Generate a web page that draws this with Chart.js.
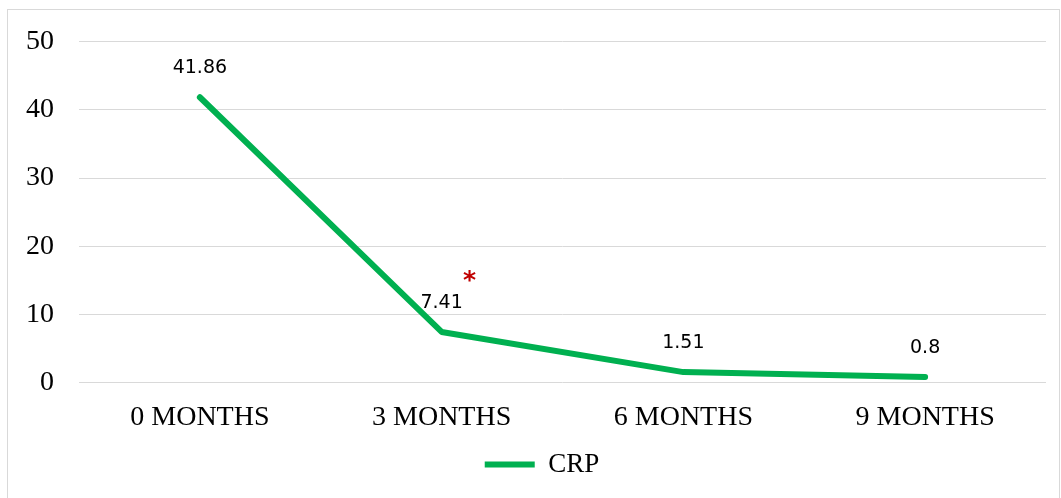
<!DOCTYPE html>
<html>
<head>
<meta charset="utf-8">
<script src="https://cdn.jsdelivr.net/npm/chart.js@4.4.1/dist/chart.umd.min.js"></script>
<style>
  html, body { margin: 0; padding: 0; background: #fff; }
  #frame { position: absolute; left: 7px; top: 9px; width: 1051px; height: 500px; border: 1px solid #d9d9d9; }
  #wrap { position: absolute; left: 0; top: 0; width: 1061px; height: 498px; }
</style>
</head>
<body>
<div id="frame"></div>
<div id="wrap"><canvas id="miGrafica"></canvas></div>
<script>
const categorias = ['0 MONTHS', '3 MONTHS', '6 MONTHS', '9 MONTHS'];
const valoresCRP = [41.86, 7.41, 1.51, 0.8];
const ticksY = [0, 10, 20, 30, 40, 50];
const serieNombre = 'CRP';

const verde = '#00B050';

// etiquetas de datos encima de cada punto + asterisco rojo en 3 meses
const etiquetas = {
  id: 'etiquetas',
  afterLayout(chart) {
    // mover la leyenda un poco a la derecha
    chart.legend.left += 19;
    chart.legend.right += 19;
  },
  afterDatasetsDraw(chart) {
    const ctx = chart.ctx;
    const meta = chart.getDatasetMeta(0);
    ctx.save();
    ctx.font = '19px "DejaVu Sans"';
    ctx.fillStyle = '#000';
    ctx.textAlign = 'center';
    ctx.textBaseline = 'alphabetic';
    meta.data.forEach((p, i) => {
      ctx.fillText(String(valoresCRP[i]), p.x, p.y - 24);
    });
    const p1 = meta.data[1];
    ctx.fillStyle = '#C00000';
    ctx.font = 'bold 25px "DejaVu Sans"';
    ctx.fillText('*', p1.x + 28, p1.y - 44);
    ctx.restore();
  }
};

const myChart = new Chart(document.getElementById('miGrafica'), {
  type: 'line',
  data: {
    labels: categorias,
    datasets: [{
      label: serieNombre,
      data: valoresCRP,
      borderColor: verde,
      backgroundColor: verde,
      borderWidth: 6,
      borderCapStyle: 'round',
      borderJoinStyle: 'round',
      pointRadius: 0,
      tension: 0
    }]
  },
  options: {
    responsive: true,
    maintainAspectRatio: false,
    animation: false,
    layout: { padding: { left: 0, right: 15, top: 39, bottom: 10 } },
    plugins: {
      tooltip: { enabled: false },
      legend: {
        position: 'bottom',
        labels: {
          usePointStyle: true,
          pointStyle: 'line',
          pointStyleWidth: 50,
          color: '#000',
          font: { family: '"Liberation Serif"', size: 27 },
          padding: 10
        }
      }
    },
    scales: {
      x: {
        offset: true,
        afterFit(scale) { scale.height -= 11; },
        grid: { display: false, drawTicks: false },
        border: { display: false },
        ticks: {
          color: '#000',
          font: { family: '"Liberation Serif"', size: 28 },
          padding: 18,
          maxRotation: 0
        }
      },
      y: {
        min: 0,
        max: 50,
        afterBuildTicks(scale) { scale.ticks = ticksY.map(v => ({ value: v })); },
        afterFit(scale) { scale.width = 79; },
        grid: { color: '#d9d9d9', lineWidth: 1, drawTicks: false },
        border: { display: false },
        ticks: {
          color: '#000',
          font: { family: '"Liberation Serif"', size: 28 },
          padding: 25
        }
      }
    }
  },
  plugins: [etiquetas]
});
</script>
</body>
</html>
